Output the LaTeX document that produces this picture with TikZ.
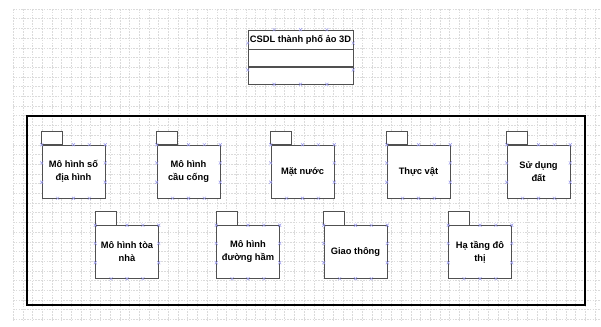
\documentclass[tikz,border=0pt]{standalone}
\usepackage{fontspec}
\newfontfamily\diagfont{Liberation Sans}
\usetikzlibrary{positioning,calc,shapes.misc}
\definecolor{boxline}{HTML}{505050}
\definecolor{handleblue}{HTML}{9A9AEE}
\newcommand{\lbl}{\diagfont\bfseries\fontsize{7}{9.75}\selectfont}
\tikzset{
	package/.style={draw=boxline, fill=white, minimum width=47.25pt, minimum height=39.75pt, align=center, inner sep=1pt, font=\lbl},
	tab/.style={draw=boxline, fill=white},
	compartment/.style={draw=boxline, fill=white, minimum width=78.75pt, minimum height=12.75pt, inner sep=0pt},
	classname/.style={compartment, minimum height=14.25pt, font=\lbl},
	frame/.style={draw=black, line width=2.2pt},
	gridline/.style={draw=gray!28, line width=0.3pt, dash pattern=on 1.2pt off 0.9pt},
	handle/.style={cross out, draw=handleblue, minimum size=2pt, inner sep=0pt, line width=0.35pt}
}

\begin{document}
\begin{tikzpicture}[x=0.75pt, y=-0.75pt]
	\useasboundingbox (0,0) rectangle (601,327);
	% background grid
	\foreach \gx in {13,22.7,...,601} \draw[gridline] (\gx,9) -- (\gx,322);
	\foreach \gy in {9,18.7,...,322} \draw[gridline] (13,\gy) -- (601,\gy);
	% top class
	\node[classname] (csdl) at (300.5,39.5) {CSDL thành phố ảo 3D};
	\node[compartment, below=0pt of csdl] (attrs) {};
	\node[compartment, below=0pt of attrs] (ops) {};
	\foreach \t in {0.25,0.5,0.75} {
		\node[handle] at ($(csdl.north west)!\t!(csdl.north east)$) {};
		\node[handle] at ($(ops.south west)!\t!(ops.south east)$) {};
	}
	\foreach \t in {0.245,0.736} {
		\node[handle] at ($(csdl.north west)!\t!(ops.south west)$) {};
		\node[handle] at ($(csdl.north east)!\t!(ops.south east)$) {};
	}
	% frame
	\draw[frame] (27,116) rectangle (585,305);
	% packages, first row
	\node[package] (dh) at (73.5,171.5) {Mô hình số\\địa hình};
	\node[package] (cc) at (188.5,171.5) {Mô hình\\cầu cống};
	\node[package] (mn) at (302.5,171.5) {Mặt nước};
	\node[package] (tv) at (418.5,171.5) {Thực vật};
	\node[package] (sd) at (538.5,171.5) {Sử dụng\\đất};
	% packages, second row
	\node[package] (tn) at (127,252) {Mô hình tòa\\nhà};
	\node[package] (dgh) at (248,252) {Mô hình\\đường hầm};
	\node[package] (gt) at (355.5,252) {Giao thông};
	\node[package] (ht) at (480,252) {Hạ tầng đô\\thị};
	% tabs and handles
	\foreach \p in {dh,cc,mn,tv,sd,tn,dgh,gt,ht} {
		\draw[tab] (\p.north west) rectangle ++(21,-13.5);
		\foreach \t in {0,0.5,0.75,1}
			\node[handle] at ($(\p.north west)!\t!(\p.north east)$) {};
		\foreach \t in {0.34,0.7} {
			\node[handle] at ($(\p.north west)!\t!(\p.south west)$) {};
			\node[handle] at ($(\p.north east)!\t!(\p.south east)$) {};
		}
		\foreach \t in {0.25,0.5,0.75}
			\node[handle] at ($(\p.south west)!\t!(\p.south east)$) {};
	}
\end{tikzpicture}
\end{document}
